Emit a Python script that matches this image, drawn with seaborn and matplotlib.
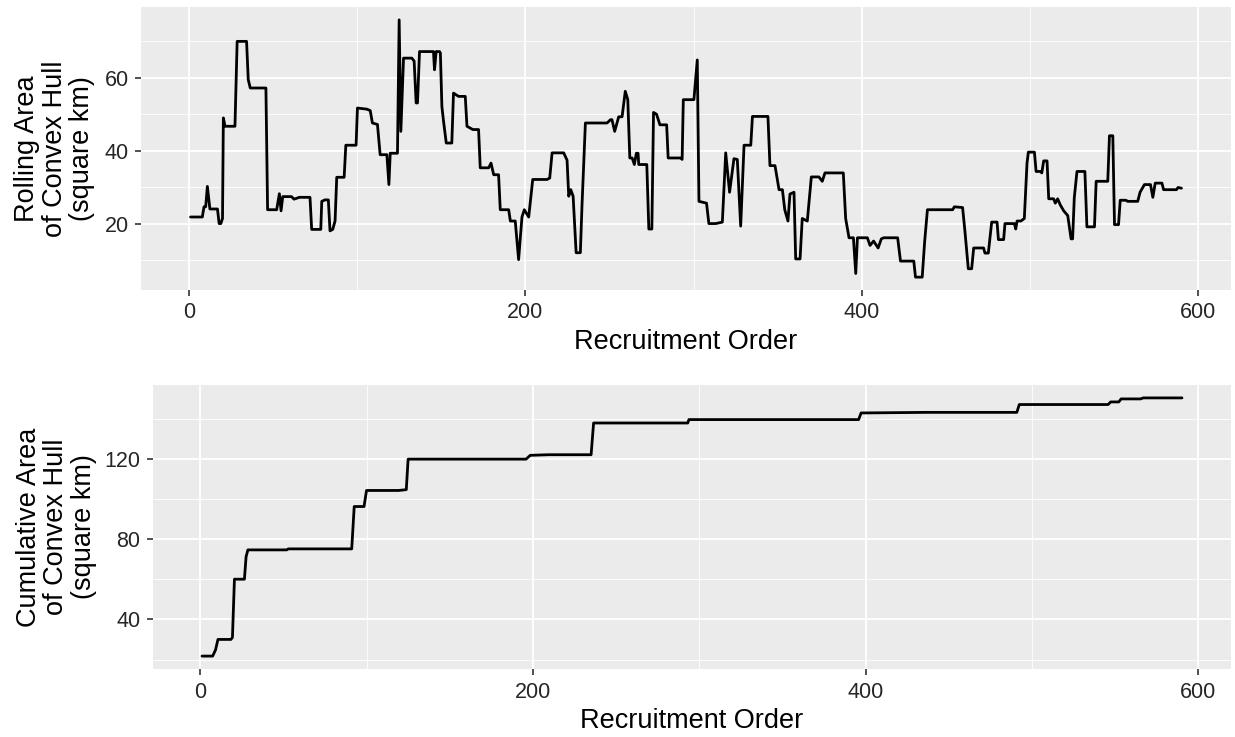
import numpy as np
import pandas as pd
import matplotlib
matplotlib.use('Agg')
import matplotlib.pyplot as plt
from matplotlib.ticker import MultipleLocator
import seaborn as sns

# rolling area of convex hull, breakpoints
roll_x = [1, 8, 9, 10, 11, 12.5, 17, 18, 19, 20, 20.5, 21.5, 27.4, 28.7, 34.3, 35.3, 36.5, 45.8, 46.8, 52.2,
          53.8, 54.8, 55.8, 61, 62.5, 65.7, 72, 73, 78.4, 79, 80.9, 82.9, 83.9, 85.5, 86.9, 87.9, 92.3, 93.3, 99.4, 100.2,
          105.8, 107.8, 109.1, 112.1, 113.7, 117.7, 118.9, 119.7, 124, 125, 126, 127.6, 132.5, 133.9, 135.1, 135.9, 137.1, 145.4, 146, 147,
          149, 149.5, 150.4, 151.4, 153, 156.3, 157.3, 160.3, 164.3, 165.3, 168.8, 172.2, 173.2, 178.2, 179.6, 181.2, 184.1, 185.1, 190.1, 191.1,
          194, 196, 198, 199.4, 202, 204.4, 212.9, 214.5, 215.9, 222.8, 224.8, 225.8, 227, 228.4, 230.2, 232.7, 233.7, 235.7, 248.6, 250.6,
          251.5, 253.1, 255.5, 257.5, 259.4, 260.9, 262.1, 263.5, 264.8, 266, 267, 267.4, 272.2, 273.4, 275.2, 276.2, 278, 280, 284, 284.9,
          292.3, 293.2, 293.9, 300.2, 302.2, 303.2, 307.7, 309.1, 313.1, 317.1, 319.1, 321.4, 324, 326, 328, 330, 334, 335, 344.2, 345.4,
          348.4, 350.8, 352.8, 354.2, 356.1, 357.3, 359.7, 360.7, 363.3, 364.6, 367.6, 370, 374.5, 376.5, 378.1, 389, 390.4, 392.4, 395, 396.4,
          397.4, 403.3, 404.9, 407, 409.7, 411.6, 413, 421.3, 423, 430.9, 431.9, 435.9, 437.4, 439, 454, 455, 459.9, 461.3, 463.3, 465.3,
          466.5, 472.4, 473.2, 475.2, 477.2, 480.4, 481.2, 484.3, 485.1, 490.7, 491.5, 492.3, 494.6, 496.6, 498.2, 499, 502.6, 503.6, 506.1, 507,
          508.1, 510.1, 511.1, 514, 515, 516.4, 518, 520, 522.4, 524.4, 525.3, 526.3, 527.9, 532.6, 533.8, 538.3, 539.3, 546.2, 547.2, 549.2,
          550.2, 552.6, 553.6, 557, 558, 564, 565.4, 568, 571.6, 573, 574.4, 578.4, 579.4, 587, 588, 590]
roll_area = [21.8, 21.8, 24.6, 24.6, 30.2, 24.0, 24.0, 20.0, 20.0, 21.4, 49.0, 46.7, 46.7, 70.0, 70.0, 59.5, 57.2, 57.2, 23.8, 23.8,
             28.2, 23.5, 27.4, 27.4, 26.7, 27.2, 27.2, 18.4, 18.4, 26.1, 26.5, 26.5, 18.0, 18.4, 20.7, 32.7, 32.7, 41.5, 41.5, 51.7,
             51.4, 51.0, 47.6, 47.2, 38.9, 38.9, 30.7, 39.3, 39.3, 75.9, 45.3, 65.4, 65.4, 64.6, 53.1, 53.1, 67.2, 67.2, 62.2, 67.2,
             67.2, 66.8, 52.1, 48.0, 42.1, 42.1, 55.8, 54.9, 54.9, 46.7, 45.8, 45.8, 35.3, 35.3, 36.6, 33.4, 33.4, 23.8, 23.8, 20.7,
             20.7, 10.1, 21.8, 23.8, 21.8, 32.1, 32.1, 32.5, 39.4, 39.4, 37.4, 27.5, 29.3, 27.5, 12.0, 12.0, 25.2, 47.6, 47.6, 48.5,
             48.5, 45.3, 49.3, 49.3, 56.3, 54.0, 38.0, 38.0, 36.2, 39.3, 39.3, 36.2, 36.2, 18.5, 18.5, 50.5, 50.0, 47.1, 47.1, 38.0,
             38.0, 37.6, 54.0, 54.0, 64.9, 26.1, 25.6, 20.0, 20.0, 20.4, 39.4, 28.6, 37.8, 37.6, 19.3, 41.5, 41.5, 49.4, 49.4, 35.9,
             35.9, 29.3, 29.3, 23.8, 20.7, 28.1, 28.6, 10.3, 10.3, 21.4, 20.7, 32.8, 32.8, 31.6, 33.9, 33.9, 21.4, 16.1, 16.1, 6.3,
             16.1, 16.1, 14.0, 15.2, 13.3, 15.8, 16.1, 16.1, 9.7, 9.7, 5.3, 5.3, 15.3, 23.8, 23.8, 24.6, 24.4, 17.9, 7.6, 7.6,
             13.3, 13.3, 11.9, 11.9, 20.4, 20.4, 15.6, 15.6, 20.0, 20.0, 18.5, 20.7, 20.7, 21.4, 36.6, 39.6, 39.6, 34.3, 34.3, 33.9,
             37.2, 37.2, 26.8, 26.8, 25.6, 26.8, 25.1, 23.5, 22.2, 15.8, 15.8, 27.1, 34.3, 34.3, 19.1, 19.1, 31.6, 31.6, 44.1, 44.1,
             19.7, 19.7, 26.4, 26.4, 26.1, 26.1, 28.6, 30.7, 30.7, 27.2, 31.1, 31.1, 29.3, 29.3, 29.9, 29.7]

# cumulative area of convex hull
cum_x = [1, 7.4, 9.1, 10.6, 18.4, 19.3, 20.5, 26.5, 27.5, 28.6, 51.9, 52.9, 91, 92.5, 98.4, 99.9, 119.2, 123.8, 124.9,
         195.8, 198.3, 209.5, 234.9, 236.4, 293, 293.7, 395.7, 397.2, 436.3, 490.8, 492.3, 545.7, 547.2, 552.1, 553.5,
         565.2, 566.8, 590.1]
cum_area = [21.7, 21.7, 24.7, 30.0, 30.0, 31.0, 60.0, 60.0, 71.2, 74.6, 74.6, 75.1, 75.1, 96.2, 96.2, 104.2, 104.2, 104.6, 119.8,
            119.8, 121.7, 122.0, 122.0, 137.8, 137.8, 139.5, 139.5, 142.8, 143.1, 143.1, 147.0, 147.0, 148.3, 148.3, 149.8,
            149.8, 150.3, 150.3]

x_ticks = [0, 200, 400, 600]

sns.set_theme(style='darkgrid', rc={'axes.facecolor': '#EBEBEB', 'grid.color': 'white'})
plt.rcParams['font.family'] = ['Liberation Sans', 'DejaVu Sans']

roll = pd.DataFrame({'order': roll_x, 'area': roll_area})
cum = pd.DataFrame({'order': cum_x, 'area': cum_area})

fig = plt.figure(figsize=(12.35, 7.37), dpi=100)
ax1 = fig.add_axes([141/1235, 1-290/737, 1090/1235, 283/737])
ax2 = fig.add_axes([153/1235, 1-669/737, 1078/1235, 284/737])


def style(ax, ylab, ymaj, lab_x):
    ax.margins(x=0.05, y=0.05)
    ax.set_xticks(x_ticks)
    ax.xaxis.set_minor_locator(MultipleLocator(100))
    ax.yaxis.set_major_locator(MultipleLocator(ymaj))
    ax.yaxis.set_minor_locator(MultipleLocator(ymaj/2))
    ax.grid(which='major', color='white', linewidth=1.3)
    ax.grid(which='minor', color='white', linewidth=0.6)
    for s in ax.spines.values():
        s.set_visible(False)
    ax.tick_params(which='major', direction='out', length=4.5, width=1.2, color='#333333',
                   labelsize=15.5, labelcolor='#262626', pad=4.5, bottom=True, left=True)
    ax.tick_params(which='minor', length=0)
    ax.set_xlabel('Recruitment Order', fontsize=19.5, color='black', labelpad=4)
    ax.set_ylabel(ylab, fontsize=19.5, color='black', linespacing=1.08)
    ax.yaxis.set_label_coords(lab_x, 0.5)


sns.lineplot(data=roll, x='order', y='area', ax=ax1, color='black', linewidth=2.0,
             estimator=None, sort=False)
style(ax1, 'Rolling Area\nof Convex Hull\n(square km)', 20, -0.042)

sns.lineplot(data=cum, x='order', y='area', ax=ax2, color='black', linewidth=2.0,
             estimator=None, sort=False)
style(ax2, 'Cumulative Area\nof Convex Hull\n(square km)', 40, -0.052)

plt.savefig('out.png', dpi=100)
